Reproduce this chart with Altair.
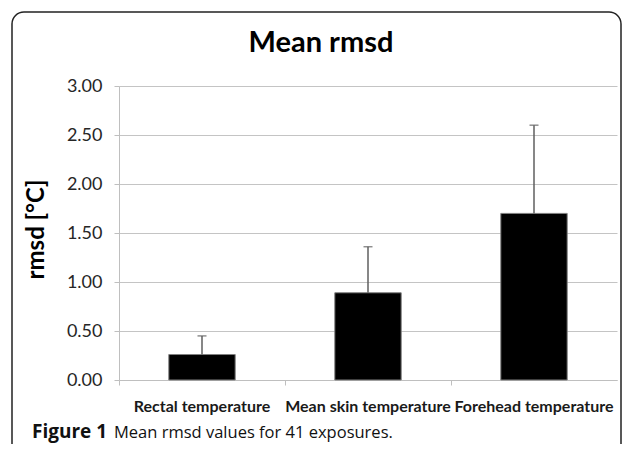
import altair as alt
import pandas as pd

categories = ["Rectal temperature", "Mean skin temperature", "Forehead temperature"]
means = [0.26, 0.89, 1.70]
sds = [0.19, 0.47, 0.90]
y_ticks = [0.0, 0.5, 1.0, 1.5, 2.0, 2.5, 3.0]

title_text = "Mean rmsd"
y_title = "rmsd [°C]"
caption_bold = "Figure 1"
caption_rest = "Mean rmsd values for 41 exposures."

df = pd.DataFrame({"category": categories, "mean": means, "sd": sds})
one = pd.DataFrame({"k": [0]})

FONT = "Lato"

x_enc = alt.X(
    "category:N",
    sort=categories,
    scale=alt.Scale(paddingInner=0, paddingOuter=0),
    axis=alt.Axis(
        title=None, labelAngle=0, labelFont=FONT, labelFontWeight="bold",
        labelFontSize=16, labelColor="#1a1a1a", labelPadding=13, labelLimit=0,
        labelOverlap=False, tickSize=5, tickColor="#bfbfbf", bandPosition=0,
        domainColor="#bfbfbf", grid=False,
    ),
)
y_enc = alt.Y(
    "mean:Q",
    scale=alt.Scale(domain=[0, 3], nice=False),
    axis=alt.Axis(
        values=y_ticks, format=".2f", title=y_title, titleFont=FONT,
        titleFontSize=24, titleFontWeight="bold", titleColor="#000000",
        titleX=-76, titleY=143, titleAngle=-90, titleAlign="center",
        titleBaseline="alphabetic",
        labelFont=FONT, labelFontSize=18, labelColor="#262626", labelPadding=12,
        tickSize=5, tickColor="#bfbfbf", domainColor="#bfbfbf",
        gridColor="#c4c4c4", gridWidth=1,
    ),
)

base = alt.Chart(df)

bars = base.mark_bar(
    width=alt.RelativeBandSize(0.4), color="#000000", stroke="#808080", strokeWidth=1
).encode(x=x_enc, y=y_enc)

err = base.transform_calculate(upper="datum.mean + datum.sd").mark_rule(
    color="#5f5f5f", strokeWidth=1.5
).encode(x=alt.X("category:N", sort=categories), y="mean:Q", y2="upper:Q")

caps = base.transform_calculate(upper="datum.mean + datum.sd").mark_tick(
    color="#5f5f5f", thickness=1.5, size=9, orient="horizontal"
).encode(x=alt.X("category:N", sort=categories), y="upper:Q")

deco = alt.Chart(one)

border = deco.mark_rect(
    fill="transparent", stroke="#222222", strokeWidth=1.5, cornerRadius=12
).encode(x=alt.value(-107), x2=alt.value(502), y=alt.value(-74), y2=alt.value(420))

title = deco.mark_text(
    text=title_text, font=FONT, fontSize=29, fontWeight="bold", color="#000000",
    align="center", baseline="alphabetic"
).encode(x=alt.value(202), y=alt.value(-34))

cap1 = deco.mark_text(
    text=caption_bold, font="Open Sans", fontSize=19, fontWeight="bold",
    color="#111111", align="left", baseline="alphabetic"
).encode(x=alt.value(-87), y=alt.value(352))

cap2 = deco.mark_text(
    text=caption_rest, font="Open Sans", fontSize=16.5, color="#111111",
    align="left", baseline="alphabetic"
).encode(x=alt.value(-5), y=alt.value(352))

chart = alt.layer(bars, err, caps, border, title, cap1, cap2).properties(
    width=498, height=294,
    autosize=alt.AutoSizeParams(type="none"),
    padding={"left": 111, "top": 78, "right": 8, "bottom": 64},
    background="white",
).configure_view(stroke=None)

chart.save("out.html", embed_options={"renderer": "svg", "actions": False})
